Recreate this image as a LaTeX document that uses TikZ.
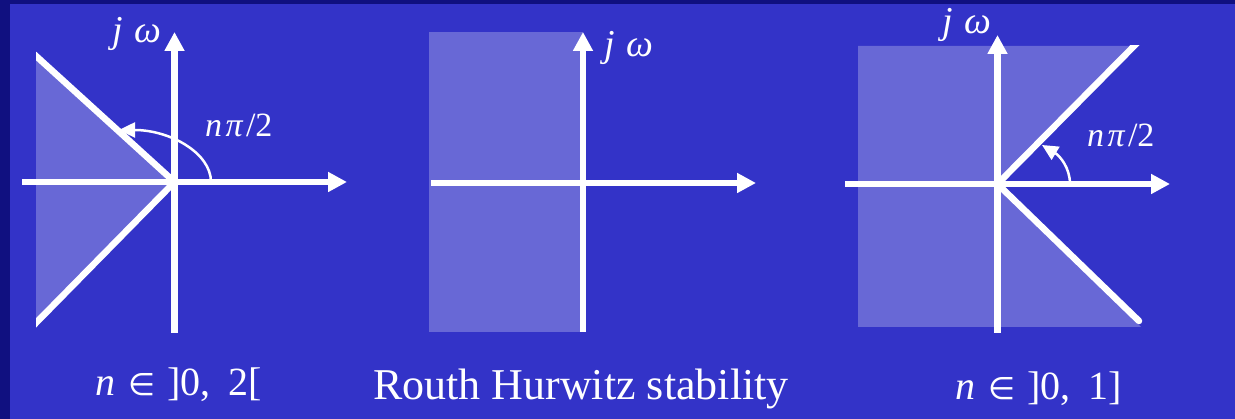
\documentclass[tikz,border=0pt]{standalone}
\usepackage{fontspec}
\setmainfont{Liberation Serif}
\newfontfamily\symfam{DejaVu Sans}
\usetikzlibrary{arrows.meta}
\definecolor{bgmain}{RGB}{51,51,200}
\definecolor{bgdark}{RGB}{16,16,128}
\definecolor{shadecol}{RGB}{104,104,214}
\begin{document}
\begin{tikzpicture}[x=1pt,y=-1pt,
  axis/.style={white, line width=6.5pt, -{Triangle[width=19pt,length=19pt]}},
  ray/.style={white, line width=6.5pt},
  anglearrow/.style={white, line width=2.5pt, -{Triangle[width=15pt,length=16pt]}},
  lbl/.style={text=white, inner sep=0pt, anchor=base west},
  jwlbl/.style={lbl, font=\fontsize{38}{38}\selectfont\itshape},
  anglbl/.style={lbl, font=\fontsize{34}{34}\selectfont},
  caplbl/.style={lbl, font=\fontsize{40}{40}\selectfont},
]
\useasboundingbox (0,0) rectangle (1235,419);
\fill[bgdark] (0,0) rectangle (1235,419);
\fill[bgmain] (10,4.5) rectangle (1235,419);

% ---------- left diagram ----------
\coordinate (O1) at (174.5,182);
\coordinate (v1b) at (174.5,333);
\coordinate (v1t) at (174.5,32);
\coordinate (h1l) at (22,182);
\coordinate (h1r) at (347,182);
\coordinate (d1u) at (30,50.5);
\coordinate (d1d) at (30,329);
\coordinate (s1u) at (36,56);
\coordinate (s1d) at (36,323);
\coordinate (a1s) at (211,182);
\coordinate (a1e) at (119,130);
\fill[shadecol] (s1u) -- (O1) -- (s1d) -- cycle;
\begin{scope}
  \clip (36,0) rectangle (400,419);
  \draw[ray] (d1u) -- (O1);
  \draw[ray] (d1d) -- (O1);
\end{scope}
\draw[axis] (h1l) -- (h1r);
\draw[axis] (v1b) -- (v1t);
\draw[anglearrow] (a1s) .. controls (211,153) and (170,130) .. (a1e);
\node[jwlbl] (jw1) at (112,42.7) {j\hspace{0.3em}ω};
\node[anglbl] (np1) at (205,136.7) {\itshape n\hspace{0.1em}π\hspace{0.1em}\upshape/2};
\node[caplbl] (c1) at (95,396) {\itshape n\upshape\hspace{0.32em}{\symfam\fontsize{31}{31}\selectfont ∈}\hspace{0.3em}]0,\hspace{0.45em}2[};

% ---------- middle diagram ----------
\coordinate (O2) at (583,183);
\coordinate (v2b) at (583,332);
\coordinate (v2t) at (583,32);
\coordinate (h2l) at (431,183);
\coordinate (h2r) at (756,183);
\fill[shadecol] (429,32) rectangle (583,332);
\draw[axis] (h2l) -- (h2r);
\draw[axis] (v2b) -- (v2t);
\node[jwlbl] (jw2) at (604,56.7) {j\hspace{0.3em}ω};
\node[lbl, font=\fontsize{44}{44}\selectfont] (c2) at (373,400) {Routh Hurwitz stability};

% ---------- right diagram ----------
\coordinate (O3) at (997.5,184);
\coordinate (v3b) at (997.5,333);
\coordinate (v3t) at (997.5,35);
\coordinate (h3l) at (845,184);
\coordinate (h3r) at (1170,184);
\coordinate (d3u) at (1140,40);
\coordinate (d3d) at (1139,321);
\coordinate (a3s) at (1070,184);
\coordinate (a3e) at (1042,145);
\fill[shadecol] (858,46) -- (1130,46) -- (O3) -- (1141,327) -- (858,327) -- cycle;
\begin{scope}
  \clip (800,46) rectangle (1235,419);
  \draw[ray] (O3) -- (d3u);
\end{scope}
\draw[ray, line cap=round] (O3) -- (d3d);
\draw[axis] (h3l) -- (h3r);
\draw[axis] (v3b) -- (v3t);
\draw[anglearrow] (a3s) .. controls (1070,168) and (1060,156) .. (a3e);
\node[jwlbl] (jw3) at (942,33.3) {j\hspace{0.3em}ω};
\node[anglbl] (np3) at (1087,146.7) {\itshape n\hspace{0.1em}π\hspace{0.1em}\upshape/2};
\node[caplbl] (c3) at (955,400) {\itshape n\upshape\hspace{0.32em}{\symfam\fontsize{31}{31}\selectfont ∈}\hspace{0.3em}]0,\hspace{0.45em}1]};
\end{tikzpicture}
\end{document}
